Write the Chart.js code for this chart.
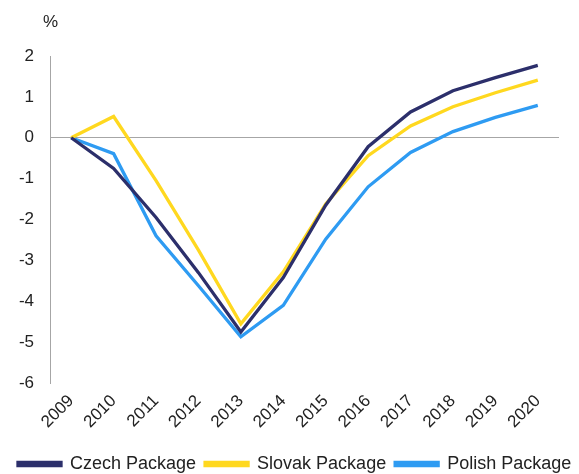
<!DOCTYPE html>
<html>
<head>
<meta charset="utf-8">
<script src="https://cdn.jsdelivr.net/npm/chart.js@4/dist/chart.umd.min.js"></script>
<style>
  html, body { margin: 0; padding: 0; background: #ffffff; }
  #wrap { width: 579px; height: 474px; position: relative; }
</style>
</head>
<body>
<div id="wrap"><canvas id="c"></canvas></div>
<script>
// Output gap by year, in percent
const years = ['2009','2010','2011','2012','2013','2014','2015','2016','2017','2018','2019','2020'];
const czech  = [0, -0.75, -1.95, -3.3, -4.75, -3.42, -1.65, -0.22, 0.63, 1.15, 1.47, 1.77];
const slovak = [0, 0.52, -1.05, -2.75, -4.55, -3.28, -1.62, -0.44, 0.29, 0.76, 1.1, 1.41];
const polish = [0, -0.39, -2.4, -3.62, -4.87, -4.1, -2.48, -1.2, -0.36, 0.15, 0.5, 0.79];
const seriesNames = ['Czech Package', 'Slovak Package', 'Polish Package'];
const yTicks = [2, 1, 0, -1, -2, -3, -4, -5, -6];

const FONT = 'Liberation Sans, Arial, sans-serif';
const colors = ['#2c2f6b', '#ffd81f', '#2e9bf2'];

// Unit label drawn above the value axis
const unitLabel = {
  id: 'unitLabel',
  afterDraw(chart) {
    const ctx = chart.ctx;
    const area = chart.chartArea;
    ctx.save();
    ctx.fillStyle = '#222222';
    ctx.font = '17px ' + FONT;
    ctx.textAlign = 'left';
    ctx.textBaseline = 'alphabetic';
    ctx.fillText('%', area.left - 7, area.top - 29);
    ctx.restore();
  }
};

const mk = (i, data) => ({
  label: seriesNames[i],
  data: data,
  borderColor: colors[i],
  backgroundColor: colors[i],
  borderWidth: 3.3,
  pointRadius: 0,
  tension: 0,
  fill: false
});

new Chart(document.getElementById('c'), {
  type: 'line',
  data: {
    labels: years,
    datasets: [mk(0, czech), mk(1, slovak), mk(2, polish)]
  },
  options: {
    responsive: true,
    maintainAspectRatio: false,
    animation: false,
    layout: { padding: { top: 56, right: -6, left: 9, bottom: -9 } },
    plugins: {
      tooltip: { enabled: false },
      legend: {
        position: 'bottom',
        align: 'start',
        labels: {
          boxWidth: 43,
          boxHeight: 3,
          padding: 9,
          color: '#222222',
          font: { family: FONT, size: 18 }
        }
      }
    },
    scales: {
      x: {
        offset: true,
        grid: { display: false, drawTicks: false },
        border: { display: false },
        afterFit(axis) { axis.height = 63; },
        ticks: {
          minRotation: 45,
          maxRotation: 45,
          padding: 8,
          color: '#222222',
          font: { family: FONT, size: 17 }
        }
      },
      y: {
        min: -6,
        max: 2,
        afterBuildTicks(axis) {
          axis.ticks = yTicks.map(v => ({ value: v }));
        },
        afterFit(axis) { axis.width = 41; },
        grid: {
          drawTicks: false,
          lineWidth: 1,
          color: ctx => (ctx.tick && ctx.tick.value === 0) ? '#a6a6a6' : 'rgba(0,0,0,0)'
        },
        border: { display: true, color: '#a6a6a6', width: 1 },
        ticks: {
          padding: 16,
          color: '#222222',
          font: { family: FONT, size: 17 }
        }
      },
      // empty right-hand margin beside the plot
      yRight: {
        type: 'linear',
        position: 'right',
        display: true,
        afterFit(axis) { axis.width = 26; },
        grid: { display: false, drawTicks: false },
        border: { display: false },
        ticks: { display: false }
      }
    }
  },
  plugins: [unitLabel]
});
</script>
</body>
</html>
